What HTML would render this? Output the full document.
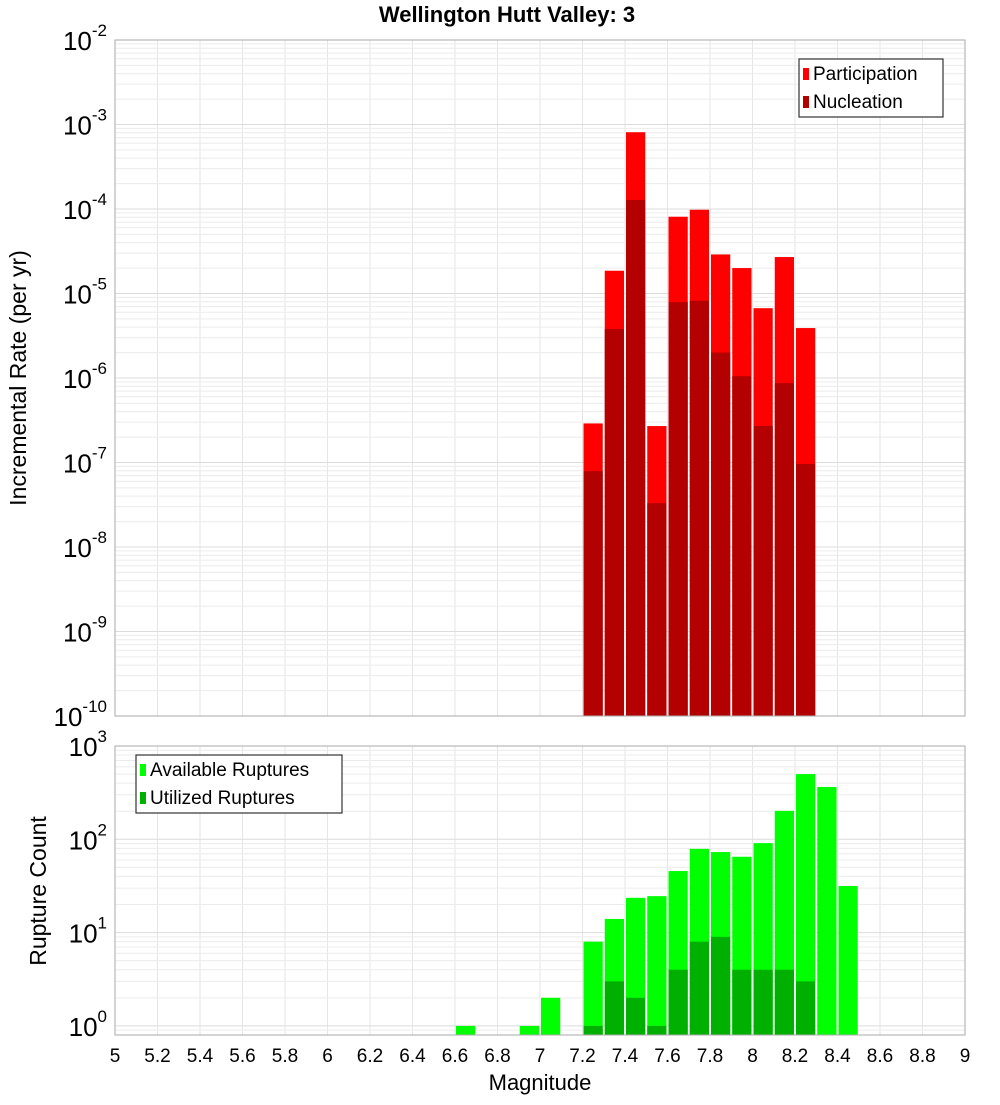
<!DOCTYPE html>
<html><head><meta charset="utf-8"><style>
body{margin:0;background:#fff;}
svg text{font-family:"Liberation Sans","DejaVu Sans",sans-serif;}
</style></head><body>
<svg id="c" width="1000" height="1100" xmlns="http://www.w3.org/2000/svg"></svg>
<script>
const binCenters=[7.25,7.35,7.45,7.55,7.65,7.75,7.85,7.95,8.05,8.15,8.25];
const participation=[2.9e-7,1.86e-5,8.1e-4,2.7e-7,8.1e-5,9.8e-5,2.9e-5,2.0e-5,6.7e-6,2.7e-5,3.9e-6];
const nucleation=[7.9e-8,3.8e-6,1.28e-4,3.3e-8,7.9e-6,8.2e-6,2.0e-6,1.05e-6,2.7e-7,8.7e-7,9.6e-8];
const availBins=[6.65,6.95,7.05,7.25,7.35,7.45,7.55,7.65,7.75,7.85,7.95,8.05,8.15,8.25,8.35,8.45];
const available=[1,1,2,8,14,23.6,24.6,45.7,79,73,65,91,202,500,364,31.6];
const utilBins=[7.25,7.35,7.45,7.55,7.65,7.75,7.85,7.95,8.05,8.15,8.25];
const utilized=[1,3,2,1,4,8,9,4,4,4,3];
const xTicks=["5","5.2","5.4","5.6","5.8","6","6.2","6.4","6.6","6.8","7","7.2","7.4","7.6","7.8","8","8.2","8.4","8.6","8.8","9"];
const topExps=[-2,-3,-4,-5,-6,-7,-8,-9,-10];
const botExps=[3,2,1,0];

const NS="http://www.w3.org/2000/svg";
const svg=document.getElementById('c');
function mk(t,a,p){const e=document.createElementNS(NS,t);for(const k in a)e.setAttribute(k,a[k]);(p||svg).appendChild(e);return e;}
const L=115,R=965;
const x=v=>L+(v-5)/4*(R-L);
const T0=40,T1=716;
const yTop=v=>T0+(-2-Math.log10(v))*(T1-T0)/8;
const B0=746,B1=1035,BD=93.3;
const yBot=v=>B0+(3-Math.log10(v))*BD;

// grids
function grid(y0,y1,yf,expLo,expHi){
  for(let i=0;i<=20;i++){const l=mk('line',{x1:x(5+i*0.2),x2:x(5+i*0.2),y1:y0,y2:y1,stroke:'#e6e6e6','stroke-width':1});
  }
  for(let e=expLo;e<=expHi;e++)for(let m=1;m<10;m++){const yy=yf(m*Math.pow(10,e));if(yy<y0||yy>y1)continue;
    const l=mk('line',{x1:L,x2:R,y1:yy,y2:yy,stroke:m==1?'#dcdcdc':'#ececec','stroke-width':1});
    }
}
grid(T0,T1,yTop,-10,-2);
grid(B0,B1,yBot,-1,3);

// top bars
binCenters.forEach((c,i)=>{
  const xa=x(c-0.05)+1,w=x(c+0.05)-x(c-0.05)-2;
  const p=mk('rect',{x:xa,y:yTop(participation[i]),width:w,height:T1-yTop(participation[i]),fill:'#ff0000'});
  
  const n=mk('rect',{x:xa,y:yTop(nucleation[i]),width:w,height:T1-yTop(nucleation[i]),fill:'#b30000'});
  
});
availBins.forEach((c,i)=>{
  const xa=x(c-0.05)+1,w=x(c+0.05)-x(c-0.05)-2;
  const r=mk('rect',{x:xa,y:yBot(available[i]),width:w,height:B1-yBot(available[i]),fill:'#00ff00'});
  
});
utilBins.forEach((c,i)=>{
  const xa=x(c-0.05)+1,w=x(c+0.05)-x(c-0.05)-2;
  const r=mk('rect',{x:xa,y:yBot(utilized[i]),width:w,height:B1-yBot(utilized[i]),fill:'#00b000'});
  
});

// frames
const f1=mk('rect',{x:L,y:T0,width:R-L,height:T1-T0,fill:'none',stroke:'#aaa','stroke-width':1});

const f2=mk('rect',{x:L,y:B0,width:R-L,height:B1-B0,fill:'none',stroke:'#aaa','stroke-width':1});


// y tick labels
function ylab(yy,e,nm){const t=mk('text',{x:107,y:yy+10,'text-anchor':'end','font-size':26});
  
  t.innerHTML='10<tspan dy="-14" font-size="17">'+e+'</tspan>';}
topExps.forEach(e=>ylab(yTop(Math.pow(10,e)),e,'y-tick-label-top'));
botExps.forEach(e=>ylab(yBot(Math.pow(10,e)),e,'y-tick-label-bottom'));
// x tick labels
xTicks.forEach((s,i)=>{const t=mk('text',{x:x(+s),y:1062,'text-anchor':'middle','font-size':19});
  t.textContent=s;});

let t=mk('text',{x:540,y:1090,'text-anchor':'middle','font-size':22});
t.textContent='Magnitude';
t=mk('text',{x:507,y:22,'text-anchor':'middle','font-size':22,'font-weight':'bold'});
t.textContent='Wellington Hutt Valley: 3';
t=mk('text',{x:0,y:0,'text-anchor':'middle','font-size':23,transform:'translate(26,378) rotate(-90)'});
t.textContent='Incremental Rate (per yr)';
t=mk('text',{x:0,y:0,'text-anchor':'middle','font-size':23,transform:'translate(46,891) rotate(-90)'});
t.textContent='Rupture Count';

// legends
function legend(x0,y0,w,items,nm){
  const g=mk('g',{});
  mk('rect',{x:x0,y:y0,width:w,height:58,fill:'#fff',stroke:'#333','stroke-width':1.2},g);
  items.forEach((it,i)=>{
    const s=mk('rect',{x:x0+4,y:y0+9+i*28,width:6,height:12,fill:it[1]},g);
    
    const tx=mk('text',{x:x0+14,y:y0+21+i*28,'font-size':19},g);
    tx.textContent=it[0];
  });
}
legend(799,59,144,[['Participation','#ff0000'],['Nucleation','#b30000']],'legend-top');
legend(136,755,206,[['Available Ruptures','#00ff00'],['Utilized Ruptures','#00b000']],'legend-bottom');
</script>
</body></html>
